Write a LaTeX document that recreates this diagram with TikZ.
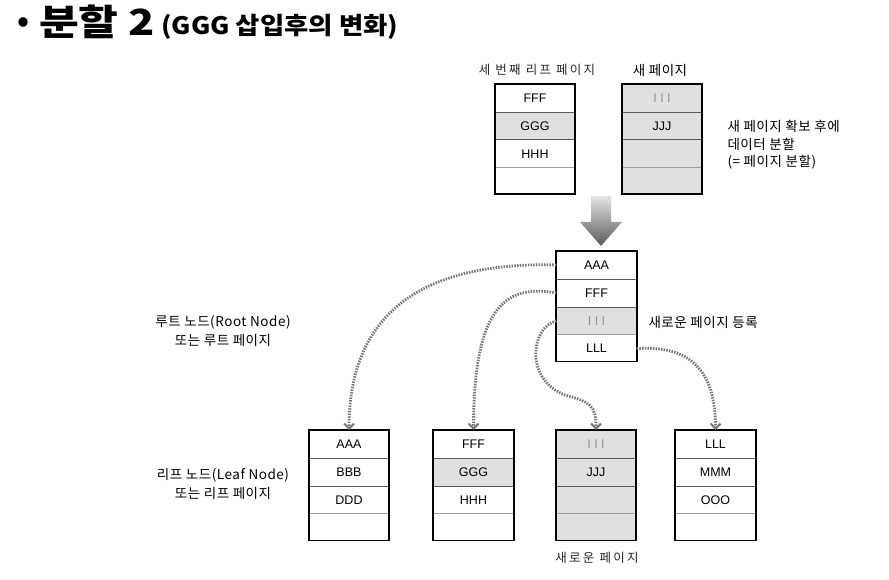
\documentclass[tikz,border=0pt]{standalone}
\usepackage{fontspec}
\setmainfont{Liberation Sans}
\newfontfamily\kr{Noto Sans CJK KR}[LetterSpace=4]
\newfontfamily\krt{Noto Sans CJK KR}
\newfontfamily\krsp{Noto Sans CJK KR}[LetterSpace=18]
\usetikzlibrary{arrows.meta}
\definecolor{cellgray}{RGB}{224,224,224}
\definecolor{linkgray}{RGB}{118,118,118}
\definecolor{divgray}{RGB}{90,90,90}
\newcommand\pg[9]{%
  \begin{scope}
  \tikzset{r1/.style={},r2/.style={},r3/.style={},r4/.style={},#9}
  \node[box, fill=#4] (#1) at (#2,#3) {};
  \node[cell,r1] (#1a) at (#1.north) {#5};
  \node[cell,r2] (#1b) at (#1a.south) {#6};
  \node[cell,r3] (#1c) at (#1b.south) {#7};
  \node[cell,r4] (#1d) at (#1c.south) {#8};
  \draw[divl] (#1a.south west) -- (#1a.south east);
  \draw[divl] (#1b.south west) -- (#1b.south east);
  \draw[divl, draw=gray!75] (#1c.south west) -- (#1c.south east);
  \draw[frame] (#1.north west) rectangle (#1.south east);
  \end{scope}}
\newcommand\three{{\color{gray!85}I\hspace{3.5pt}I\hspace{3.5pt}I}}
\begin{document}
\begin{tikzpicture}[x=1pt,y=-1pt,
  box/.style={minimum width=80pt, minimum height=110pt, inner sep=0pt, anchor=north},
  cell/.style={minimum width=80pt, minimum height=27.5pt, inner sep=0pt, anchor=north, font=\fontsize{12.5}{14}\selectfont},
  divl/.style={draw=divgray, line width=0.6pt},
  frame/.style={draw=black, line width=1.8pt},
  lbl/.style={font=\kr\fontsize{13.5}{18.5}\selectfont},
  lblsp/.style={font=\krsp\fontsize{12.5}{16}\selectfont, text=black!85},
  conn/.style={draw=linkgray, line width=2.8pt, dash pattern=on 1.5pt off 1.2pt,
    -{Straight Barb[length=5pt,width=10pt,line width=2pt]}}
]
\useasboundingbox (0,0) rectangle (889,580);

% title
\node[anchor=center, inner sep=0pt, font=\krt\bfseries\fontsize{30}{30}\selectfont] (bul) at (23,25) {•};
\node[anchor=base west, inner sep=0pt, font=\krt\bfseries\fontsize{36}{36}\selectfont] (t) at (39,36) {\scalebox{1.2}[1]{분할 2}};
\node[anchor=base west, inner sep=0pt, font=\krt\bfseries\fontsize{24}{24}\selectfont] (ts) at (161,35) {\scalebox{1.1}[1]{(GGG 삽입후의 변화)}};

% top pages
\pg{p1}{535}{84}{white}{FFF}{GGG}{HHH}{}{r2/.style={fill=cellgray}}
\pg{p2}{662}{84}{cellgray}{\three}{JJJ}{}{}{}
\node[lblsp] (l1) at (537,70) {세 번째 리프 페이지};
\node[lbl] (l2) at (660,70) {새 페이지};
\node[lbl, align=left, anchor=west, font=\kr\fontsize{13.5}{17.5}\selectfont] (l3) at (724,145) {새 페이지 확보 후에\\데이터 분할\\(= 페이지 분할)};

% big arrow
\shade[top color=gray!20, bottom color=gray!70!black]
  (591,196) -- (611,196) -- (611,222) -- (622,222) -- (601,246) -- (580,222) -- (591,222) -- cycle;

% root
\pg{root}{596.5}{251}{white}{AAA}{FFF}{\three}{LLL}{r3/.style={fill=cellgray}}
\node[lbl, anchor=west] (l4) at (645,322) {새로운 페이지 등록};

% leaves
\pg{q1}{349}{430}{white}{AAA}{BBB}{DDD}{}{}
\pg{q2}{473.5}{430}{white}{FFF}{GGG}{HHH}{}{r2/.style={fill=cellgray}}
\pg{q3}{596}{430}{cellgray}{\three}{JJJ}{}{}{}
\pg{q4}{715.5}{430}{white}{LLL}{MMM}{OOO}{}{}
\node[lblsp] (l5) at (597,558) {새로운 페이지};

\node[lbl, align=center] (l6) at (223,331) {루트 노드(Root Node)\\또는 루트 페이지};
\node[lbl, align=center] (l7) at (223,484) {리프 노드(Leaf Node)\\또는 리프 페이지};

% connectors
\draw[conn] (roota.west) .. controls (440,262) and (349,300) .. (q1.north);
\draw[conn] (rootb.west) .. controls (510,285) and (473.5,300) .. (q2.north);
\draw[conn] (rootc.west) .. controls (530,328) and (525,380) .. (565,395)
  .. controls (590,402) and (596,405) .. (q3.north);
\draw[conn] (rootd.east) .. controls (690,345) and (715.5,370) .. (q4.north);
\end{tikzpicture}
\end{document}
